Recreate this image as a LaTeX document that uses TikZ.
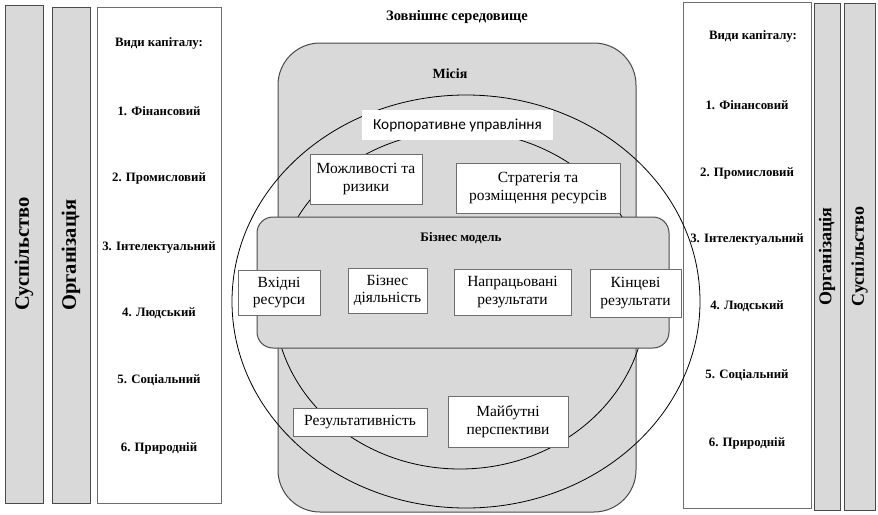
\documentclass[tikz,border=0pt]{standalone}
\usepackage{fontspec}
\setmainfont{Liberation Serif}
\newfontfamily\carl{Carlito}
\usetikzlibrary{shapes.geometric}
\definecolor{fillg}{HTML}{D9D9D9}
\definecolor{edgeg}{HTML}{4A4A4A}
\definecolor{boxg}{HTML}{6E6E6E}
\begin{document}
\begin{tikzpicture}[x=1pt,y=-1pt,
  col/.style={draw=edgeg, line width=1pt, fill=fillg, rotate=90, inner sep=0pt,
    font=\fontsize{20.5}{23}\selectfont\bfseries},
  wcol/.style={draw=boxg, line width=0.9pt, fill=white, inner sep=0pt},
  captext/.style={font=\fontsize{12.8}{14}\selectfont\bfseries},
  big/.style={draw=edgeg, line width=1pt, fill=fillg, inner sep=0pt},
  ring/.style={ellipse, draw=black, line width=0.8pt, inner sep=0pt},
  wbox/.style={draw=boxg, line width=0.8pt, fill=white, inner sep=0pt, align=center,
    font=\fontsize{15.5}{17.5}\selectfont},
  title/.style={font=\fontsize{13}{15}\selectfont\bfseries}
]
\useasboundingbox (0,0) rectangle (878,514);
% left columns
\node[col, minimum width=498, minimum height=38] (ls) at (24,254) {Суспільство};
\node[col, minimum width=496, minimum height=38] (lo) at (71,255) {Організація};
\node[wcol, minimum width=124, minimum height=496] (lw) at (159,255) {};
\node[captext] (l0) at (159,43) {Види капіталу:};
\node[captext] (l1) at (159,111) {1. Фінансовий};
\node[captext] (l2) at (159,178) {2. Промисловий};
\node[captext] (l3) at (159,247) {3. Інтелектуальний};
\node[captext] (l4) at (159,313) {4. Людський};
\node[captext] (l5) at (159,380) {5. Соціальний};
\node[captext] (l6) at (159,448) {6. Природній};
% right columns
\node[wcol, minimum width=128, minimum height=506] (rw) at (747,255) {};
\node[col, minimum width=507, minimum height=26, font=\fontsize{18}{20}\selectfont\bfseries] (ro) at (827,256.5) {Організація};
\node[col, minimum width=507, minimum height=31, font=\fontsize{18}{20}\selectfont\bfseries] (rs) at (859.5,256.5) {Суспільство};
\node[captext] (r0) at (753,36) {Види капіталу:};
\node[captext] (r1) at (747,105) {1. Фінансовий};
\node[captext] (r2) at (747,173) {2. Промисловий};
\node[captext] (r3) at (747,239) {3. Інтелектуальний};
\node[captext] (r4) at (747,306) {4. Людський};
\node[captext] (r5) at (747,375) {5. Соціальний};
\node[captext] (r6) at (747,443) {6. Природній};
% centre
\node[title, font=\fontsize{14.5}{16}\selectfont\bfseries] (env) at (457,17) {Зовнішнє середовище};
\node[big, rounded corners=42, minimum width=358, minimum height=469] (mis) at (457,277.5) {};
\node[title, font=\fontsize{14}{16}\selectfont\bfseries] (misl) at (450,74) {Місія};
\node[ring, minimum width=468, minimum height=413] (outer) at (466,301.5) {};
\node[ring, minimum width=372, minimum height=338] (inner) at (460,300) {};
\node[big, rounded corners=16, minimum width=412, minimum height=131] (bm) at (463,282.5) {};
\node[title] (bml) at (461,238) {Бізнес модель};
\node[wbox, draw=none, minimum width=191, minimum height=30, font=\carl\fontsize{15.3}{17}\selectfont] (corp) at (457.5,125) {Корпоративне управління};
\node[wbox, minimum width=112, minimum height=50] (mozh) at (366,179) {Можливості та\\ризики};
\node[wbox, minimum width=164, minimum height=50] (strat) at (538,188) {Стратегія та\\розміщення ресурсів};
\node[wbox, minimum width=82, minimum height=45] (vhid) at (279,292.5) {Вхідні\\ресурси};
\node[wbox, minimum width=79, minimum height=45] (biz) at (387.5,290.5) {Бізнес\\діяльність};
\node[wbox, minimum width=117, minimum height=46] (napr) at (512.5,292) {Напрацьовані\\результати};
\node[wbox, minimum width=91, minimum height=48] (kinc) at (635.5,293) {Кінцеві\\результати};
\node[wbox, minimum width=134, minimum height=28] (rez) at (360,422) {Результативність};
\node[wbox, minimum width=120, minimum height=51] (maib) at (508,421.5) {Майбутні\\перспективи};
\end{tikzpicture}
\end{document}
